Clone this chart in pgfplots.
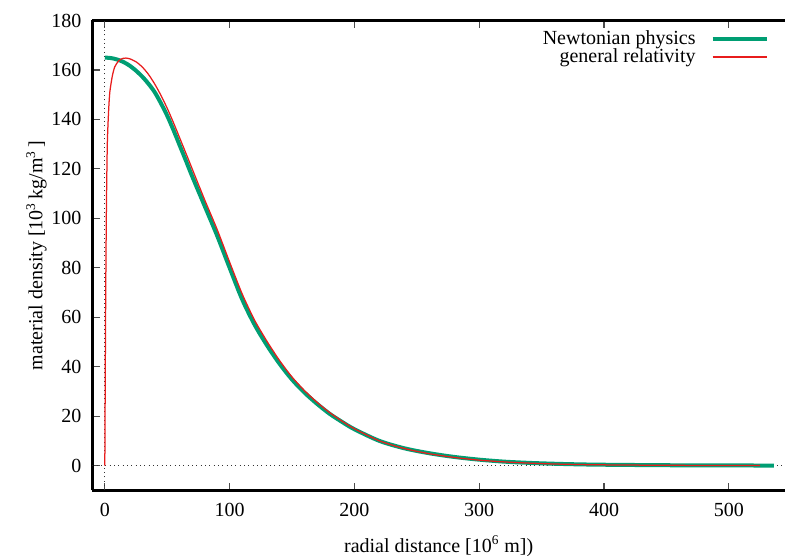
\documentclass[border=0pt]{standalone}
\usepackage{fontspec}
\setmainfont{Liberation Serif}
\usepackage{pgfplots}
\pgfplotsset{compat=1.18}

\definecolor{newton}{RGB}{0,158,115}
\definecolor{grcol}{RGB}{232,28,28}

\begin{document}
\begin{tikzpicture}
\begin{axis}[
  scale only axis,
  width=415.6pt, height=281.9pt,
  xmin=-10, xmax=545, ymin=-10, ymax=180,
  xtick={0,100,200,300,400,500},
  ytick={0,20,40,60,80,100,120,140,160,180},
  axis x line=box, axis y line=left,
  axis line style={-, line width=1.5pt},
  xtick pos=both,
  tick align=inside,
  major tick length=4.5pt,
  tick style={line width=0.7pt, black!70},
  tick label style={font=\fontsize{12}{14}\selectfont},
  xticklabel style={yshift=-4pt},
  yticklabel style={xshift=-3pt},
  /pgf/number format/assume math mode=true,
  label style={font=\fontsize{12}{14}\selectfont},
  xlabel={radial distance [10\textsuperscript{6} m])},
  ylabel={material density [10\textsuperscript{3}\,kg/m\textsuperscript{3}\,]},
  xlabel style={yshift=-5pt},
  ylabel style={yshift=-4pt},
  legend style={at={(rel axis cs:0.985,0.993)}, anchor=north east, draw=none,
    fill=none, font=\fontsize{12}{14}\selectfont, row sep=-3pt},
  legend cell align=right,
  legend plot pos=right,
  legend image code/.code={\path (0cm,0cm); \draw[#1] (0.25cm,0cm) -- (1.4cm,0cm);},
]
\coordinate (pSW) at (rel axis cs:0,0);
\coordinate (pNE) at (rel axis cs:1,1);
\draw[dotted, line width=0.6pt, black!80] (axis cs:0,-10) -- (axis cs:0,180);
\draw[dotted, line width=0.6pt, black!80] (axis cs:-10,0) -- (axis cs:545,0);

\addplot[color=newton, line width=2.4pt, smooth, tension=0.5] coordinates {
(0,165) (5,164.8) (10,164.2) (15,163.2) (20,161.7) (25,159.7) (30,157.3)
(35,154.4) (40,151) (45,146.5) (50,141.5) (55,135.7) (60,129.5) (65,123.3)
(70,117) (80,105) (90,93) (100,80) (110,67.3) (120,57) (130,48.6)
(140,41.2) (150,34.8) (160,29.5) (170,25) (180,21) (190,17.7) (200,14.7)
(220,10) (240,7.0) (260,5.0) (280,3.5) (300,2.4) (320,1.6) (340,1.1)
(360,0.75) (380,0.5) (400,0.35) (450,0.15) (500,0.06) (536,0.03)
};
\addlegendentry{Newtonian physics}

\addplot[color=grcol, line width=0.75pt, smooth, tension=0.4] coordinates {
(0,0) (0.2,20) (0.5,50) (0.8,75) (1.3,105) (2,130) (3,143) (4,151)
(6,157.5) (8,161.3) (11,163.6) (14,164.6) (17,164.8) (20,164.5)
(25,163.3) (30,161.2) (35,158.2) (40,154.3) (45,149.7) (50,144.5) (55,138.7)
(60,132.5) (65,126.3) (70,120) (80,107.5) (90,95.5) (100,82.3) (110,69.5)
(120,58.8) (130,50.2) (140,42.5) (150,35.8) (160,30.3) (170,25.6) (180,21.5)
(190,18) (200,14.9) (220,10) (240,6.9) (260,4.8) (280,3.3) (300,2.2) (320,1.5)
(340,1) (360,0.65) (380,0.43) (400,0.3) (450,0.12) (500,0.04) (525,0.02)
};
\addlegendentry{general relativity}
\end{axis}
\pgfresetboundingbox
\useasboundingbox ([xshift=-55.4pt,yshift=-39.4pt]pSW) rectangle ([yshift=12.3pt]pNE);
\end{tikzpicture}
\end{document}
